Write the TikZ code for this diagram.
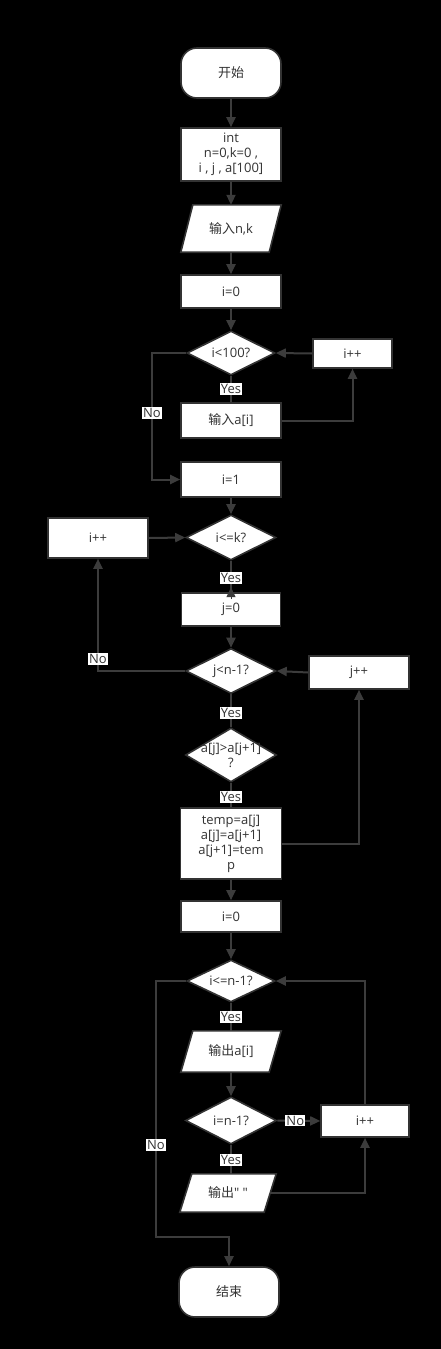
\documentclass[tikz,border=0pt]{standalone}
\usepackage{fontspec}
\setmainfont{Open Sans}
\newfontfamily\cjk{Noto Sans CJK SC}
\newfontfamily\oq{Open Sans}[Ligatures=TeXOff]
\usetikzlibrary{shapes.geometric,arrows.meta}
\definecolor{ln}{HTML}{3C3C3C}
\definecolor{bd}{HTML}{333333}
\definecolor{tx}{HTML}{333333}
\begin{document}
\begin{tikzpicture}[x=1pt,y=-1pt,
  every node/.style={font=\fontsize{13}{15}\selectfont, text=tx},
  proc/.style={draw=bd, line width=1.6pt, fill=white, rectangle, inner sep=0pt, align=center},
  term/.style={proc, rounded corners=16pt, minimum width=100pt, minimum height=50pt},
  dec/.style={draw=bd, line width=1.6pt, fill=white, diamond, inner sep=0pt},
  iobox/.style={rectangle, inner sep=0pt},
  para/.style={draw=bd, line width=1.6pt, fill=white},
  conn/.style={draw=ln, line width=2pt},
  arr/.style={conn, -{Triangle[length=10pt,width=9pt]}},
  lbl/.style={fill=white, inner sep=1pt, text=tx}
]
\useasboundingbox (0,0) rectangle (441,1349);
\fill[black] (0,0) rectangle (441,1349);

% nodes
\node[term] (start) at (231,73) {\cjk 开始};
\node[proc, minimum width=100pt, minimum height=53pt] (decl) at (231,154.5) {int\\n=0,k=0 ,\\i , j , a[100]};
\node[iobox, minimum width=100pt, minimum height=47pt] (in1) at (231,228.5) {};
\draw[para] (in1.south west) -- ([xshift=12pt]in1.north west) -- (in1.north east) -- ([xshift=-12pt]in1.south east) -- cycle;
\node (in1t) at (in1) {{\cjk 输入}n,k};
\node[proc, minimum width=100pt, minimum height=33pt] (i0a) at (231,291.5) {i=0};
\node[dec, minimum width=88pt, minimum height=44pt, label={center:i<100?}] (d1) at (231,353) {};
\node[proc, minimum width=79pt, minimum height=29pt] (inc1) at (352.5,353.5) {i++};
\node[proc, minimum width=100pt, minimum height=35pt] (ina) at (231,420.5) {{\cjk 输入}a[i]};
\node[proc, minimum width=100pt, minimum height=35pt] (i1) at (231,479.5) {i=1};
\node[dec, minimum width=90pt, minimum height=45pt, label={center:i<=k?}] (d2) at (231,537.5) {};
\node[proc, minimum width=100pt, minimum height=40pt] (inc2) at (98,538) {i++};
\node[proc, minimum width=99pt, minimum height=33pt] (j0) at (231,609.5) {j=0};
\node[dec, minimum width=90pt, minimum height=45pt, label={center:j<n-1?}] (d3) at (231,671) {};
\node[proc, minimum width=100pt, minimum height=33pt] (inc3) at (359,672.5) {j++};
\node[dec, minimum width=91pt, minimum height=54pt, label={[align=center]center:a[j]>a[j+1]\\?}] (d4) at (231,755) {};
\node[proc, minimum width=101pt, minimum height=71pt] (tmp) at (231,843.5) {temp=a[j]\\a[j]=a[j+1]\\a[j+1]=tem\\p};
\node[proc, minimum width=100pt, minimum height=31pt] (i0b) at (231,916.5) {i=0};
\node[dec, minimum width=88pt, minimum height=42pt, label={center:i<=n-1?}] (d5) at (231,981) {};
\node[iobox, minimum width=100pt, minimum height=41pt] (outa) at (231,1051.5) {};
\draw[para] (outa.south west) -- ([xshift=12pt]outa.north west) -- (outa.north east) -- ([xshift=-12pt]outa.south east) -- cycle;
\node (outat) at (outa) {{\cjk 输出}a[i]};
\node[dec, minimum width=91pt, minimum height=47pt, label={center:i=n-1?}] (d6) at (231,1120.5) {};
\node[proc, minimum width=88pt, minimum height=32pt] (inc4) at (365,1121) {i++};
\node[iobox, minimum width=96pt, minimum height=38pt] (outs) at (228,1193) {};
\draw[para] (outs.south west) -- ([xshift=12pt]outs.north west) -- (outs.north east) -- ([xshift=-12pt]outs.south east) -- cycle;
\node (outst) at (outs) {{\cjk 输出}{\oq " "}};
\node[term] (end) at (229,1292) {\cjk 结束};

% connectors
\draw[arr] (start) -- (decl);
\draw[arr] (decl) -- (in1);
\draw[arr] (in1) -- (i0a);
\draw[arr] (i0a) -- (d1);
\draw[conn] (d1.south) -- (ina.north) node[lbl, pos=0.5] (y1) {Yes};
\draw[arr] (ina.east) -| (inc1.south);
\draw[arr] (inc1.west) -- (d1.east);
\coordinate (n1a) at (152,353);
\coordinate (n1b) at (152,479.5);
\draw[arr] (d1.west) -- (n1a) -- (n1b) -- (i1.west);
\node[lbl] (no1) at (152,413) {No};
\draw[arr] (i1) -- (d2);
\draw[conn] (d2.south) -- (j0.north);
\draw[draw=ln, line width=1pt, -{Triangle[length=10pt,width=9pt]}] ([yshift=-7pt]j0.north) -- ([yshift=5pt]j0.north);
\node[lbl] (y2) at (231,578) {Yes};
\draw[arr] (j0) -- (d3);
\draw[arr] (d3.west) -| (inc2.south);
\node[lbl] (no2) at (98,659) {No};
\draw[arr] (inc2.east) -- (d2.west);
\draw[conn] (d3.south) -- (d4.north);
\node[lbl] (y3) at (231,713) {Yes};
\draw[conn] (d4.south) -- (tmp.north);
\node[lbl] (y4) at (231,797) {Yes};
\draw[arr] (tmp.east) -| (inc3.south);
\draw[arr] (inc3.west) -- (d3.east);
\draw[arr] (tmp) -- (i0b);
\draw[arr] (i0b) -- (d5);
\draw[conn] (d5.south) -- (outa.north);
\node[lbl] (y5) at (231,1017) {Yes};
\draw[arr] (outa) -- (d6);
\draw[arr] (d6.east) -- (inc4.west) node[lbl, pos=0.42] (no3) {No};
\draw[conn] (d6.south) -- (d6.south |- outs.north);
\node[lbl] (y6) at (231,1160) {Yes};
\draw[arr] ([xshift=-6pt]outs.east) -| (inc4.south);
\draw[arr] (inc4.north) |- (d5.east);
\coordinate (n4a) at (156,981);
\coordinate (n4b) at (156,1237);
\coordinate (n4c) at (229,1237);
\draw[arr] (d5.west) -- (n4a) -- (n4b) -- (n4c) -- (end.north);
\node[lbl] (no4) at (156,1145) {No};
\end{tikzpicture}
\end{document}
